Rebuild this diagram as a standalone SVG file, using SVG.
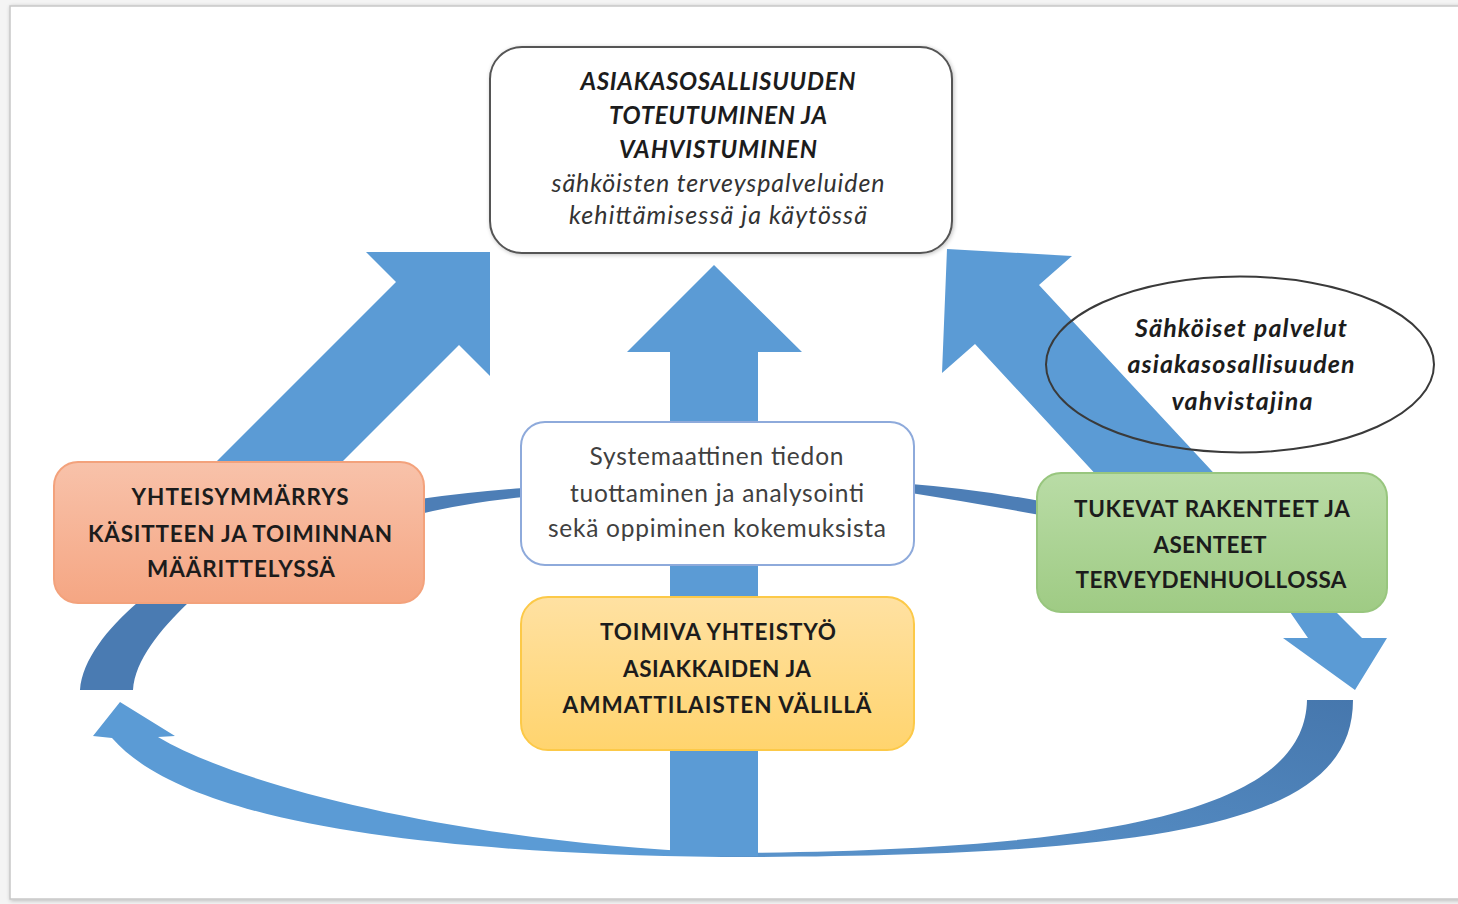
<svg xmlns="http://www.w3.org/2000/svg" width="1458" height="904" viewBox="0 0 1458 904">
<defs>
<style>
.t{font-family:Lato,"Liberation Sans",sans-serif;text-anchor:middle;}
.b{font-weight:bold;font-size:22.5px;fill:#1c1c1c;}
.bi{font-weight:bold;font-style:italic;font-size:24px;fill:#1c1c1c;}
.i{font-style:italic;font-size:25px;fill:#333;}
.n{font-size:24.5px;fill:#404040;}
.ei{font-weight:bold;font-style:italic;font-size:25px;fill:#1c1c1c;}
.arrow{fill:#5b9bd5;}
.dark{fill:#4a7bb2;}
</style>
<linearGradient id="gOr" x1="0" y1="0" x2="0" y2="1"><stop offset="0" stop-color="#f8c2aa"/><stop offset="1" stop-color="#f5a683"/></linearGradient>
<linearGradient id="gGr" x1="0" y1="0" x2="0" y2="1"><stop offset="0" stop-color="#b9dca6"/><stop offset="1" stop-color="#9fcb84"/></linearGradient>
<linearGradient id="gYe" x1="0" y1="0" x2="0" y2="1"><stop offset="0" stop-color="#ffe1a2"/><stop offset="1" stop-color="#ffd46e"/></linearGradient>
<linearGradient id="gBR" x1="1" y1="0" x2="0" y2="1"><stop offset="0" stop-color="#4677ad"/><stop offset="1" stop-color="#5a94cc"/></linearGradient>
<filter id="sh" x="-5%" y="-5%" width="110%" height="110%"><feGaussianBlur in="SourceAlpha" stdDeviation="2"/><feOffset dx="1" dy="1"/><feComponentTransfer><feFuncA type="linear" slope="0.25"/></feComponentTransfer><feMerge><feMergeNode/><feMergeNode in="SourceGraphic"/></feMerge></filter>
</defs>
<rect x="0" y="0" width="1458" height="904" fill="#f4f4f4"/>
<rect x="10" y="6" width="1470" height="893" fill="#ffffff" stroke="#c8c8c8" stroke-width="1.5" filter="url(#sh)"/>

<g id="connectors">
<path class="dark" d="M152,588 L137,603 C108,628 82,660 80,690 L133,690 C135,660 160,630 188,603 L204,588 Z"/>
<polygon class="arrow" points="490,252 490,376 459,345 284,520 158,520 396,282 366,252"/>
<polygon class="arrow" points="947,249 1072,256 1039,285 1290,555 1336,612 1362,638 1387,638 1355,690 1283,638 1308,638 1290,612 1250,565 1175,560 975,344 942,373"/>
<path fill="url(#gBR)" d="M1307,700 L1353,700 C1353,818 1190,857 720,857 L720,853 C1150,851 1305,800 1307,700 Z"/>
<path class="arrow" d="M720,857 C420,853 185,822 112,738 L93,736 L120,702 L175,736 L158,737 C240,786 460,842 720,853 Z"/>
<polygon class="arrow" points="714,265 802,352 758,352 758,856 670,856 670,352 627,352"/>
<path fill="#4d7eb6" d="M420,499 Q470,492 524,488 L524,497 Q470,502 420,514 Z"/>
<path fill="#4d7eb6" d="M911,484 Q975,489 1040,501 L1040,515 Q975,503 911,493 Z"/>
</g>

<g id="node-top">
<rect x="490" y="47" width="462" height="206" rx="32" fill="#ffffff" stroke="#555" stroke-width="2" filter="url(#sh)"/>
<text class="t bi" x="718" y="90" textLength="275">ASIAKASOSALLISUUDEN</text>
<text class="t bi" x="718" y="124" textLength="218">TOTEUTUMINEN JA</text>
<text class="t bi" x="718" y="158" textLength="198">VAHVISTUMINEN</text>
<text class="t i" x="718" y="192" textLength="333">sähköisten terveyspalveluiden</text>
<text class="t i" x="718" y="224" textLength="298">kehittämisessä ja käytössä</text>
</g>

<g id="node-ellipse">
<ellipse cx="1240" cy="364.5" rx="194" ry="88" fill="none" stroke="#3a3a3a" stroke-width="2"/>
<text class="t ei" x="1241" y="337" textLength="212">Sähköiset palvelut</text>
<text class="t ei" x="1241" y="373" textLength="227">asiakasosallisuuden</text>
<text class="t ei" x="1242" y="410" textLength="141">vahvistajina</text>
</g>

<g id="node-orange">
<rect x="54" y="462" width="370" height="141" rx="24" fill="url(#gOr)" stroke="#f3a27c" stroke-width="2"/>
<text class="t b" x="240" y="505" textLength="217">YHTEISYMMÄRRYS</text>
<text class="t b" x="240" y="542" textLength="304">KÄSITTEEN JA TOIMINNAN</text>
<text class="t b" x="241" y="577" textLength="188">MÄÄRITTELYSSÄ</text>
</g>

<g id="node-white">
<rect x="521" y="422" width="393" height="143" rx="24" fill="#ffffff" stroke="#8eaadb" stroke-width="2"/>
<text class="t n" x="716.5" y="465" textLength="254">Systemaattinen tiedon</text>
<text class="t n" x="717" y="502" textLength="294">tuottaminen ja analysointi</text>
<text class="t n" x="717" y="537" textLength="338">sekä oppiminen kokemuksista</text>
</g>

<g id="node-yellow">
<rect x="521" y="597" width="393" height="153" rx="27" fill="url(#gYe)" stroke="#fcc948" stroke-width="2"/>
<text class="t b" x="718" y="640" textLength="236">TOIMIVA YHTEISTYÖ</text>
<text class="t b" x="717" y="677" textLength="188">ASIAKKAIDEN JA</text>
<text class="t b" x="717" y="713" textLength="309">AMMATTILAISTEN VÄLILLÄ</text>
</g>

<g id="node-green">
<rect x="1037" y="473" width="350" height="139" rx="24" fill="url(#gGr)" stroke="#98c67e" stroke-width="2"/>
<text class="t b" x="1212" y="517" textLength="276">TUKEVAT RAKENTEET JA</text>
<text class="t b" x="1210" y="553" textLength="113">ASENTEET</text>
<text class="t b" x="1211" y="588" textLength="271">TERVEYDENHUOLLOSSA</text>
</g>
</svg>
